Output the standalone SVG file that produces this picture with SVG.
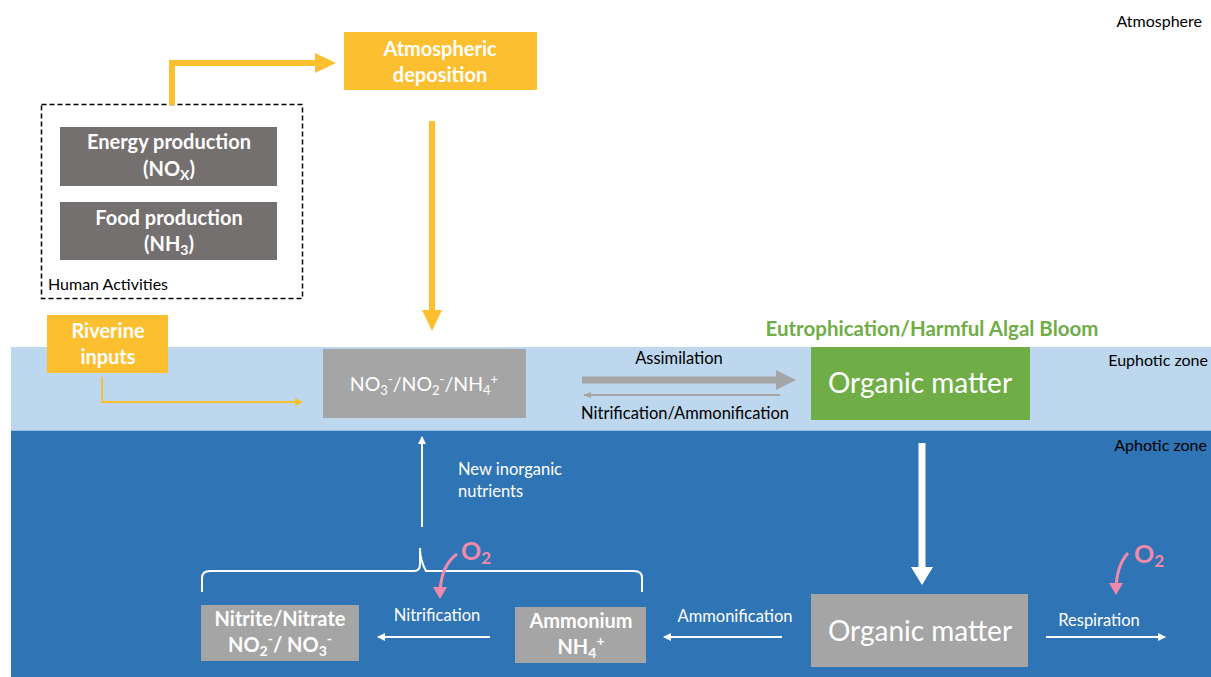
<svg xmlns="http://www.w3.org/2000/svg" width="1211" height="677" viewBox="0 0 1211 677">
<defs>
<style>
text{font-family:Lato,"Open Sans","Liberation Sans",sans-serif}
.w{fill:#fff}
.k{fill:#000}
.ctr{text-anchor:middle}
.big{font-size:20px;font-weight:bold}
.sm{font-size:16.5px}
.ora{fill:#FCBF2F}
.dg{fill:#757070}
.lg{fill:#A5A5A5}
.pk{fill:#F08AAB}
</style>
<marker id="aw" markerWidth="8" markerHeight="8" refX="7" refY="4" orient="auto" markerUnits="userSpaceOnUse"><path d="M0,0 L8,4 L0,8 Z" fill="#fff"/></marker>
<marker id="ao" markerWidth="8" markerHeight="8" refX="7" refY="4" orient="auto" markerUnits="userSpaceOnUse"><path d="M0,0 L8,4 L0,8 Z" fill="#FCBF2F"/></marker>
<marker id="ag" markerWidth="8" markerHeight="8" refX="7" refY="4" orient="auto" markerUnits="userSpaceOnUse"><path d="M0,1 L8,4 L0,7 Z" fill="#A5A5A5"/></marker>
<marker id="ap" markerWidth="14" markerHeight="14" refX="9" refY="7" orient="auto" markerUnits="userSpaceOnUse"><path d="M0,0 L12,7 L0,14 Z" fill="#F08AAB"/></marker>
</defs>
<rect width="1211" height="677" fill="#fff"/>
<g id="zones">
<rect x="11" y="347" width="1200" height="83" fill="#BDD7EE"/>
<rect x="11" y="430" width="1200" height="247" fill="#2F74B5"/>
<line x1="11" y1="430.5" x2="1211" y2="430.5" stroke="#9DBFE0" stroke-width="1"/>
<text class="k" x="1202" y="27" font-size="16" text-anchor="end">Atmosphere</text>
<text class="k" x="1208" y="366" font-size="16" text-anchor="end">Euphotic zone</text>
<text class="k" x="1207" y="451" font-size="16" text-anchor="end">Aphotic zone</text>
<text x="932" y="336" font-size="20.5" font-weight="bold" fill="#70AD47" text-anchor="middle">Eutrophication/Harmful Algal Bloom</text>
</g>
<g id="human-activities">
<rect x="41.5" y="104.5" width="261" height="194" fill="none" stroke="#000" stroke-width="1.5" stroke-dasharray="5,3"/>
<text class="k" x="48" y="290" font-size="16">Human Activities</text>
</g>
<g id="energy">
<rect class="dg" x="60" y="127" width="217" height="59"/>
<text class="w big ctr" x="169" y="149">Energy production</text>
<text class="w big ctr" x="169" y="176">(NO<tspan font-size="14" dy="4">X</tspan><tspan dy="-4">)</tspan></text>
</g>
<g id="food">
<rect class="dg" x="60" y="202" width="217" height="58"/>
<text class="w big ctr" x="169" y="225">Food production</text>
<text class="w big ctr" x="169" y="251">(NH<tspan font-size="14" dy="4">3</tspan><tspan dy="-4">)</tspan></text>
</g>
<g id="atmospheric-deposition">
<rect class="ora" x="344" y="32" width="193" height="58"/>
<text class="w big ctr" x="440" y="56">Atmospheric</text>
<text class="w big ctr" x="440" y="82">deposition</text>
</g>
<g id="riverine">
<rect class="ora" x="47" y="315" width="121" height="58"/>
<text class="w big ctr" x="108" y="338">Riverine</text>
<text class="w big ctr" x="108" y="364">inputs</text>
</g>
<g id="inorganic">
<rect class="lg" x="323" y="349" width="203" height="69"/>
<text class="w ctr" x="424" y="391" font-size="19.5">NO<tspan font-size="13" dy="4">3</tspan><tspan font-size="13" dy="-11">-</tspan><tspan dy="7">/NO</tspan><tspan font-size="13" dy="4">2</tspan><tspan font-size="13" dy="-11">-</tspan><tspan dy="7">/NH</tspan><tspan font-size="13" dy="4">4</tspan><tspan font-size="13" dy="-11">+</tspan></text>
</g>
<g id="organic-top">
<rect x="811" y="347" width="219" height="73" fill="#70AD47"/>
<text class="w ctr" x="920" y="393" font-size="28">Organic matter</text>
</g>
<g id="organic-bottom">
<rect class="lg" x="811" y="594" width="217" height="73"/>
<text class="w ctr" x="920" y="641" font-size="28">Organic matter</text>
</g>
<g id="ammonium">
<rect class="lg" x="515" y="607" width="131" height="56"/>
<text class="w big ctr" x="581" y="628">Ammonium</text>
<text class="w big ctr" x="581" y="654">NH<tspan font-size="14" dy="4">4</tspan><tspan font-size="14" dy="-12">+</tspan></text>
</g>
<g id="nitrite-nitrate">
<rect class="lg" x="201" y="605" width="158" height="56"/>
<text class="w big ctr" x="280" y="626">Nitrite/Nitrate</text>
<text class="w big ctr" x="280" y="652">NO<tspan font-size="14" dy="4">2</tspan><tspan font-size="14" dy="-12">-</tspan><tspan dy="8">/ NO</tspan><tspan font-size="14" dy="4">3</tspan><tspan font-size="14" dy="-12">-</tspan></text>
</g>
<g id="connectors">
<path d="M172,105 V63 H316" fill="none" stroke="#FCBF2F" stroke-width="6"/>
<path d="M315,53 L336,63 L315,73 Z" fill="#FCBF2F"/>
<line x1="432" y1="121" x2="432" y2="312" stroke="#FCBF2F" stroke-width="6"/>
<path d="M422,310 L432,331 L442,310 Z" fill="#FCBF2F"/>
<path d="M102,377 V402 H302" fill="none" stroke="#FCBF2F" stroke-width="2" marker-end="url(#ao)"/>
<line x1="582" y1="380" x2="778" y2="380" stroke="#A5A5A5" stroke-width="7"/>
<path d="M776,370 L796,380 L776,390 Z" fill="#A5A5A5"/>
<line x1="780" y1="395" x2="584" y2="395" stroke="#A5A5A5" stroke-width="2" marker-end="url(#ag)"/>
<text class="k sm ctr" x="679" y="364">Assimilation</text>
<text class="k sm ctr" x="685" y="419">Nitrification/Ammonification</text>
<line x1="922" y1="443" x2="922" y2="569" stroke="#fff" stroke-width="7"/>
<path d="M911,567 L922,585 L933,567 Z" fill="#fff"/>
<line x1="1046" y1="637" x2="1165" y2="637" stroke="#fff" stroke-width="2" marker-end="url(#aw)"/>
<text class="w sm ctr" x="1099" y="626">Respiration</text>
<line x1="782" y1="637" x2="664" y2="637" stroke="#fff" stroke-width="2" marker-end="url(#aw)"/>
<text class="w sm ctr" x="735" y="622">Ammonification</text>
<line x1="490" y1="637" x2="378" y2="637" stroke="#fff" stroke-width="2" marker-end="url(#aw)"/>
<text class="w sm ctr" x="437" y="621">Nitrification</text>
<line x1="422" y1="527" x2="422" y2="437" stroke="#fff" stroke-width="2" marker-end="url(#aw)"/>
<text class="w sm" x="458" y="475">New inorganic</text>
<text class="w sm" x="458" y="497">nutrients</text>
<path d="M202,592 V578 Q202,571 210,571 H414 Q420,571 420,564 V548 Q420,560 426,571 H634 Q642,571 642,578 V592" fill="none" stroke="#fff" stroke-width="2"/>
<path d="M457,554 Q440,566 440,596" fill="none" stroke="#F08AAB" stroke-width="3" marker-end="url(#ap)"/>
<text class="pk" x="461" y="560" font-size="25" font-weight="bold">O<tspan font-size="17" dy="4">2</tspan></text>
<path d="M1128,553 Q1116,566 1116,592" fill="none" stroke="#F08AAB" stroke-width="3" marker-end="url(#ap)"/>
<text class="pk" x="1134" y="563" font-size="25" font-weight="bold">O<tspan font-size="17" dy="4">2</tspan></text>
</g>
</svg>
